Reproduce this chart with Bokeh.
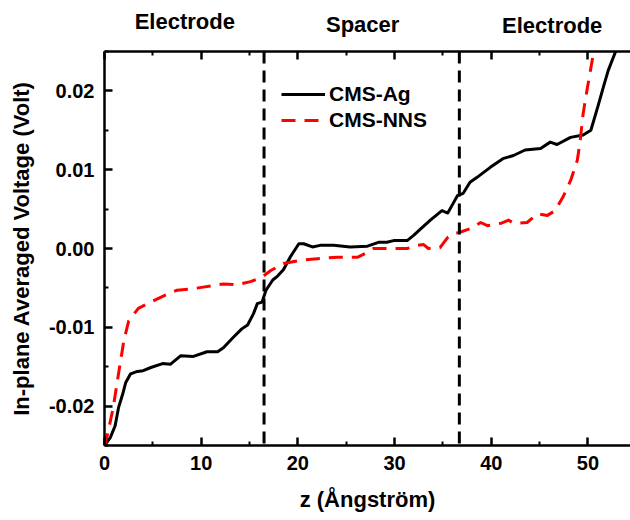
from bokeh.plotting import figure
from bokeh.layouts import column
from bokeh.models import (LinearAxis, FixedTicker, NumeralTickFormatter, Span,
                          Legend, LegendItem, Range1d, CustomJSTickFormatter)
from bokeh.core.properties import value
from bokeh.embed import file_html
from bokeh.resources import INLINE

# ---- data ----
z_ag = [0.0, 0.6, 1.1, 1.45, 1.9, 2.2, 2.7, 3.4, 4.0, 4.8, 6.0, 6.8, 7.3, 7.9, 9.2, 10.6,
        11.7, 12.3, 13.3, 14.2, 14.8, 15.4, 15.8, 16.3, 16.7, 17.4, 17.9, 18.5, 19.2, 20.1,
        20.6, 21.5, 22.3, 23.7, 25.4, 27.2, 28.4, 29.2, 29.9, 31.3, 32.0, 32.7, 33.7, 34.9,
        35.5, 36.0, 36.5, 37.1, 37.8, 38.5, 39.9, 41.2, 42.3, 43.5, 45.1, 46.1, 46.8, 48.2,
        49.5, 50.3, 51.0, 51.6, 52.1, 52.8, 53.0]
v_ag = [-0.0250, -0.0240, -0.0225, -0.0202, -0.0184, -0.0170, -0.0159, -0.0156, -0.0155,
        -0.0151, -0.0146, -0.0147, -0.0142, -0.0136, -0.0137, -0.0131, -0.0131, -0.0126,
        -0.0113, -0.0102, -0.0097, -0.0083, -0.0070, -0.0068, -0.0053, -0.0040, -0.0035,
        -0.0027, -0.0011, 0.0006, 0.0006, 0.0002, 0.0004, 0.0004, 0.0002, 0.0003, 0.0008,
        0.0008, 0.0010, 0.0010, 0.0017, 0.0025, 0.0036, 0.0048, 0.0045, 0.0056, 0.0067,
        0.0070, 0.0084, 0.0090, 0.0103, 0.0114, 0.0118, 0.0125, 0.0127, 0.0135, 0.0132,
        0.0141, 0.0144, 0.0150, 0.0179, 0.0205, 0.0226, 0.0248, 0.0255]

z_nns = [0.0, 0.4, 0.9, 1.45, 2.0, 2.5, 3.5, 4.8, 6.5, 7.5, 9.2, 10.2, 12.3, 13.7, 15.1,
         16.2, 17.2, 18.5, 20.3, 22.0, 24.1, 26.2, 27.0, 27.8, 29.6, 31.3, 32.4, 33.0, 33.5,
         34.7, 35.5, 36.1, 36.6, 37.8, 38.9, 39.6, 41.0, 41.8, 42.3, 43.7, 44.8, 45.8, 46.6,
         47.4, 48.2, 48.9, 49.2, 49.5, 49.9, 50.5, 50.6]
v_nns = [-0.0252, -0.0231, -0.0202, -0.0159, -0.0117, -0.0092, -0.0076, -0.0068, -0.0058,
         -0.0053, -0.0051, -0.0049, -0.0045, -0.0046, -0.0042, -0.0037, -0.0028, -0.0019,
         -0.0015, -0.0013, -0.0011, -0.0011, -0.0006, 0.0000, 0.0000, 0.0000, 0.0004, 0.0005,
         0.0000, 0.0001, 0.0014, 0.0019, 0.0020, 0.0025, 0.0033, 0.0029, 0.0032, 0.0036,
         0.0032, 0.0033, 0.0044, 0.0042, 0.0048, 0.0065, 0.0086, 0.0112, 0.0137, 0.0171,
         0.0201, 0.0243, 0.0255]

boundaries = [16.5, 36.7]
region_names = ["Electrode", "Spacer", "Electrode"]
region_centers = [8.3, 26.7, 46.3]
region_heights = [0.57, 0.51, 0.47]

x_ticks = [0, 10, 20, 30, 40, 50]
x_minor = [5, 15, 25, 35, 45]
y_ticks = [-0.02, -0.01, 0.0, 0.01, 0.02]
y_minor = [-0.025, -0.015, -0.005, 0.005, 0.015, 0.025]

FONT = "Liberation Sans"
HEAD_H = 48

xr = Range1d(0, 54.4)

# ---- header with region names ----
head = figure(width=630, height=HEAD_H, output_backend="svg", toolbar_location=None,
              x_range=xr, y_range=Range1d(0, 1), x_axis_type=None, y_axis_type=None,
              min_border_left=104, min_border_right=0, min_border_top=0, min_border_bottom=0)
head.outline_line_color = None
head.grid.visible = False
head.text(x=region_centers, y=region_heights, text=region_names, text_align="center",
          text_baseline="middle", text_font=value(FONT), text_font_style="bold",
          text_font_size="22px", text_color="black")

# ---- main plot ----
p = figure(width=630, height=520 - HEAD_H, output_backend="svg", toolbar_location=None,
           x_range=xr, y_range=Range1d(-0.025, 0.025),
           min_border_left=104, min_border_right=0, min_border_top=3, min_border_bottom=75,
           x_axis_label="z (Ångström)", y_axis_label="In-plane Averaged Voltage (Volt)")
p.outline_line_color = None
p.grid.visible = False

for ax in [p.xaxis[0], p.yaxis[0]]:
    ax.axis_line_width = 2.5
    ax.major_tick_line_width = 2.5
    ax.minor_tick_line_width = 2
    ax.major_tick_in = 8
    ax.major_tick_out = 0
    ax.minor_tick_in = 4
    ax.minor_tick_out = 0
    ax.major_label_text_font = FONT
    ax.major_label_text_font_style = "bold"
    ax.major_label_text_font_size = "20px"
    ax.major_label_text_color = "black"
    ax.axis_label_text_font = FONT
    ax.axis_label_text_font_style = "bold"
    ax.axis_label_text_font_size = "22px"
    ax.axis_label_text_color = "black"
    ax.major_label_standoff = 10

p.xaxis[0].ticker = FixedTicker(ticks=x_ticks, minor_ticks=x_minor)
p.yaxis[0].ticker = FixedTicker(ticks=y_ticks, minor_ticks=y_minor)
p.yaxis[0].formatter = NumeralTickFormatter(format="0.00")
p.xaxis[0].axis_label_standoff = 14
p.yaxis[0].axis_label_standoff = 12

top = LinearAxis(ticker=FixedTicker(ticks=x_ticks, minor_ticks=x_minor),
                 formatter=CustomJSTickFormatter(code="return '';"),
                 major_label_text_font_size="1px", major_label_standoff=0,
                 axis_line_width=2.5, major_tick_line_width=2.5, minor_tick_line_width=2,
                 major_tick_in=8, major_tick_out=0, minor_tick_in=4, minor_tick_out=0)
p.add_layout(top, "above")

for b in boundaries:
    p.add_layout(Span(location=b, dimension="height", line_color="black",
                      line_width=3, line_dash="12 7"))

r_ag = p.line(z_ag, v_ag, line_color="black", line_width=3, line_join="round")
r_nns = p.line(z_nns, v_nns, line_color="#ff0000", line_width=3, line_dash="14 9",
               line_join="round")

legend = Legend(items=[LegendItem(label="CMS-Ag", renderers=[r_ag]),
                       LegendItem(label="CMS-NNS", renderers=[r_nns])],
                location=(177, 313), border_line_color=None, background_fill_alpha=0,
                glyph_width=44, label_text_font=FONT, label_text_font_style="bold",
                label_text_font_size="21px", label_text_color="black",
                spacing=2, padding=4, label_standoff=4)
p.add_layout(legend)

layout = column(head, p, spacing=0)
open("out.html", "w").write(file_html(layout, INLINE))
